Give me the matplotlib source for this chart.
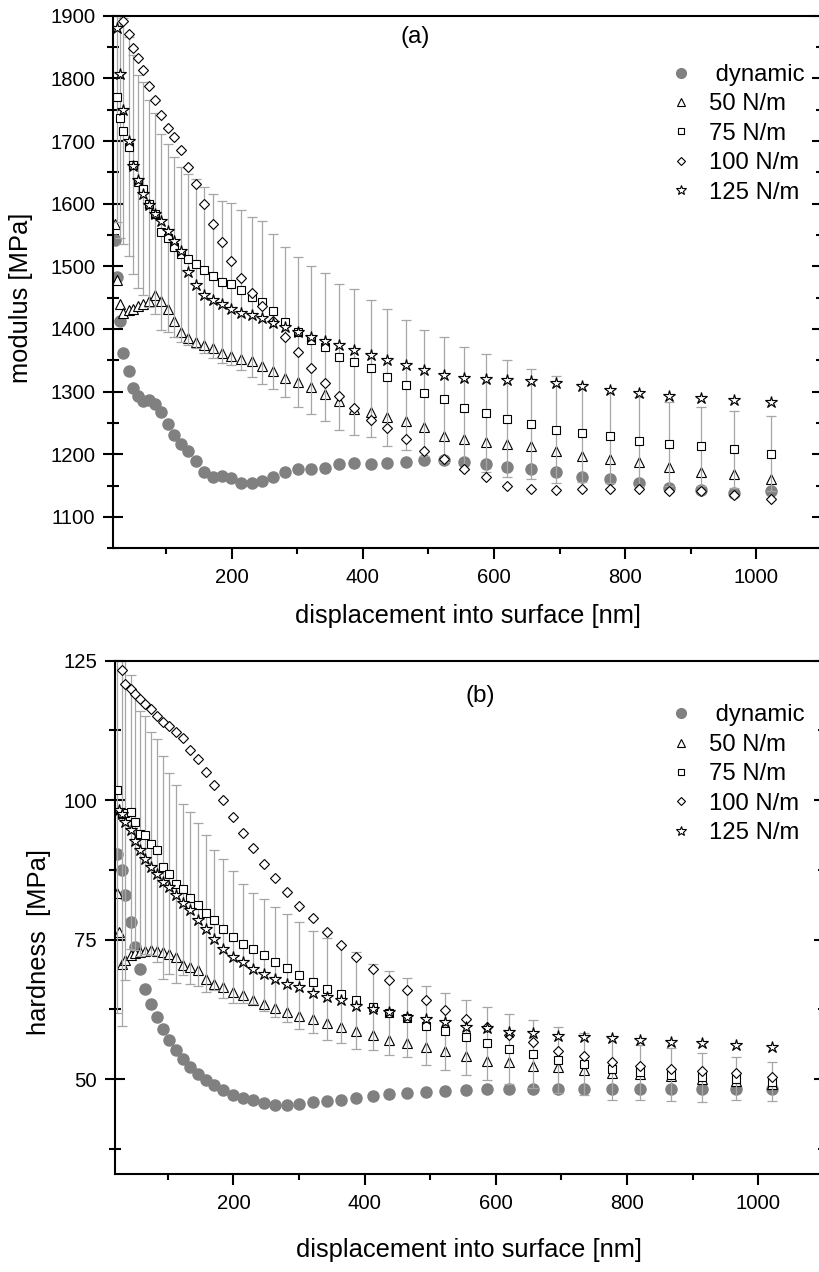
import numpy as np
import matplotlib
matplotlib.use("Agg")
import matplotlib.pyplot as plt
from matplotlib.lines import Line2D
from matplotlib.ticker import MultipleLocator

plt.rcParams['font.family'] = ['Liberation Sans', 'DejaVu Sans']

nan = np.nan

# displacement into surface [nm] (common sampling of all curves)
depth = [22.5, 25.5, 29.7, 35, 43.4, 50, 57.6, 65.2, 74.4, 83.1, 92.2, 102.4,
         112, 122.7, 133.8, 146, 158.2, 171, 184.8, 198.9, 214.2, 230.5, 246.2,
         263.4, 281.3, 300.6, 320.9, 342.2, 364, 387, 412.3, 437.2, 465, 493,
         523, 554.5, 587, 620, 657, 694.7, 734.5, 776.5, 820.6, 866.8, 915,
         966.5, 1021.6]

labels = [' dynamic', '50 N/m', '75 N/m', '100 N/m', '125 N/m']

# (a) modulus [MPa]
mod_dyn = [1542, 1483, 1412, 1362, 1333, 1306, 1293, 1285, 1286.5, 1281, 1268, 1249,
           1231, 1217, 1205, 1190, 1172, 1163, 1165, 1162, 1155, 1154, 1158, 1164,
           1172, 1177, 1177, 1178, 1184, 1186, 1185, 1186, 1187, 1190.5, 1190.5, 1187,
           1184, 1180, 1176, 1171, 1164, 1161, 1154, 1146, 1142.6, 1139, 1141]
mod_50 = [1567, 1478, 1440, 1425, 1431, 1432.5, 1436, 1440, 1445, 1454, 1445, 1432,
          1413, 1395, 1385, 1380, 1374, 1369, 1362, 1357, 1352, 1349, 1341, 1333,
          1322, 1316, 1307, 1296, 1285, 1273, 1268, 1260, 1253, 1243, 1230, 1225,
          1220, 1217, 1213, 1205, 1198, 1192, 1187, 1180, 1172, 1169, 1161]
mod_75 = [nan, 1770.6, 1736, 1716, 1691, 1662.5, 1635, 1624, 1600, 1584, 1555, 1546,
          1531, 1519, 1511, 1504, 1494, 1485, 1475, 1472, 1462, 1451, 1443, 1428,
          1411.5, 1395.5, 1382, 1371.6, 1355.6, 1347.6, 1337, 1323, 1311, 1298, 1288,
          1273.5, 1265.6, 1257, 1248.6, 1239.5, 1234, 1229, 1221, 1217, 1213, 1208, 1201]
mod_75_err = [nan, 200, 190, 180, 175, 175, 170, 170, 165, 160, 156, 150,
              143, 140, 137, 135, 133, 131, 130, 129, 128, 127, 130, 124,
              120, 120, 118, 118, 117, 117, 110, 109, 104, 100, 100, 98,
              94, 93, 88, 85, 78, 75, 71, 67, 63, 61, 60]
mod_100 = [nan, nan, nan, 1892, 1870, 1849, 1833, 1813, 1788, 1766, 1741, 1721,
           1707, 1685, 1659, 1631, 1600, 1568, 1539, 1508, 1482, 1457, 1437, 1412,
           1388, 1364, 1338, 1314, 1293, 1274, 1255, 1242, 1225, 1206, 1192, 1177,
           1163, 1149, 1144, 1143, 1145, 1144, 1144, 1141.5, 1141.5, 1135, 1129]
mod_125 = [nan, 1880, 1807, 1750, 1700, 1660, 1637, 1615, 1598, 1583, 1572, 1557,
           1540, 1525, 1491, 1470, 1455, 1446, 1440, 1432, 1426, 1423, 1418, 1410,
           1403, 1395, 1387, 1381, 1375, 1367, 1359, 1351, 1342, 1335, 1327, 1322,
           1320, 1318, 1316.6, 1314, 1309, 1303, 1298, 1293, 1290, 1286, 1284]

# (b) hardness [MPa]
hard_dyn = [90.4, nan, 87.4, 83, 78.2, 73.7, 69.8, 66.1, 63.5, 61.2, 58.9, 57.0,
            55.3, 53.6, 52.15, 50.9, 49.9, 48.9, 48.0, 47.1, 46.6, 46.2, 45.8, 45.45,
            45.4, 45.55, 45.9, 46.0, 46.2, 46.6, 46.9, 47.3, 47.5, 47.7, 47.9, 48.1,
            48.2, 48.26, 48.26, 48.26, 48.26, 48.26, 48.26, 48.26, 48.26, 48.15, 48.15]
hard_50 = [83.4, 76.4, 70.7, 71.3, 72.2, 72.6, 72.8, 73.0, 73.1, 73.0, 72.8, 72.5,
           71.9, 70.4, 70.1, 69.5, 68, 67.1, 66.5, 65.6, 65, 64.2, 63.5, 62.8,
           62.0, 61.3, 60.7, 60.0, 59.4, 58.6, 57.9, 57.0, 56.45, 55.7, 55.0, 54.2,
           53.3, 53.0, 52.4, 52.1, 51.7, 51.1, 51.0, 50.65, 50.05, 49.75, 49.15]
hard_75 = [101.8, nan, 97.6, 97.7, 97.9, 96.1, 94, 93.7, 92.2, 91, 88, 86.8,
           85, 84, 82.5, 81.3, 79.7, 78.5, 77, 75.5, 74.3, 73.4, 72.2, 71,
           69.9, 68.6, 67.4, 66.2, 65.2, 64.1, 62.9, 61.9, 61.0, 59.6, 58.6, 57.5,
           56.4, 55.4, 54.5, 53.5, 52.7, 51.8, 51.2, 50.8, 50.3, 50.05, 49.5]
hard_75_err = [40, nan, 38, 30, 24.5, 23, 22, 21.3, 20, 20, 20, 18,
               17.7, 15.4, 15.4, 14.6, 14, 12.6, 12.4, 11.8, 10.7, 9.9, 10, 9.9,
               9.7, 9.6, 9.15, 9.15, 8.8, 8.7, 7.7, 7.5, 7.1, 7.1, 6.9, 6.7,
               6.5, 6.3, 6.1, 5.9, 5.5, 5.6, 5.0, 4.8, 4.4, 3.85, 3.5]
hard_100 = [nan, nan, 123.3, 120.9, 119.9, 119, 118.2, 117.2, 116.3, 115, 114.1, 113.3,
            112.3, 111.1, 109, 107.3, 105.1, 102.7, 100.1, 97, 94.2, 91.4, 88.5, 86.1,
            83.6, 81, 78.8, 76.4, 74.1, 71.9, 69.7, 67.7, 65.9, 64.2, 62.4, 60.8,
            59.3, 57.9, 56.6, 55.1, 54.1, 53.0, 52.4, 51.8, 51.4, 51.1, 50.3]
hard_125 = [nan, 98.2, 97.5, 96.1, 94.7, 92.7, 91, 89.5, 88, 86.8, 85.3, 84.4,
            83, 81.6, 80.3, 78.6, 77, 75.2, 73.4, 71.9, 71, 69.8, 68.9, 68,
            67.1, 66.5, 65.5, 64.7, 64.1, 63.2, 62.6, 62.0, 61.1, 60.8, 60.2, 59.4,
            59.1, 58.5, 58.2, 57.8, 57.5, 57.3, 57.0, 56.6, 56.4, 56.2, 55.85]

GRAY = '#808080'
ERR_GRAY = '#a6a6a6'
W, H = 820, 1272
LABEL_FS = 18.4

fig = plt.figure(figsize=(W / 100, H / 100), dpi=100)


def axes_px(left, top, right, bottom):
    return fig.add_axes([left / W, 1 - bottom / H, (right - left) / W, (bottom - top) / H])


def draw_panel(ax, y_dyn, y50, y75, y75err, y100, y125):
    x = np.array(depth)
    ax.plot(x, y_dyn, 'o', ms=8, color=GRAY, mec=GRAY, zorder=2.0)
    ax.plot(x, y50, '^', ms=7.6, mfc='white', mec='black', mew=0.8, zorder=2.1)
    ax.errorbar(x, y75, yerr=y75err, fmt='none', ecolor=ERR_GRAY, elinewidth=0.9,
                capsize=3.6, capthick=0.9, zorder=2.2)
    ax.plot(x, y75, 's', ms=5.8, mfc='white', mec='black', mew=0.8, zorder=2.3)
    ax.plot(x, y100, 'D', ms=5.2, mfc='white', mec='black', mew=0.8, zorder=2.4)
    ax.plot(x, y125, '*', ms=9, mfc='white', mec='black', mew=0.85, zorder=2.5)

    ax.set_xlim(19.5, 1100)
    ax.xaxis.set_major_locator(MultipleLocator(200))
    ax.xaxis.set_minor_locator(MultipleLocator(100))
    ax.tick_params(axis='x', which='both', direction='out', top=False, width=1.5,
                   labelsize=14.6, pad=6.5)
    ax.tick_params(axis='x', which='major', length=8)
    ax.tick_params(axis='x', which='minor', length=4.3)
    ax.tick_params(axis='y', which='both', direction='inout', left=True, right=True,
                   width=1.5, labelsize=14.6, pad=5.5)
    ax.tick_params(axis='y', which='major', length=15)
    ax.tick_params(axis='y', which='minor', length=9)
    for s in ax.spines.values():
        s.set_linewidth(1.5)
    ax.set_xlabel('displacement into surface [nm]', fontsize=LABEL_FS)

    handles = [
        Line2D([], [], ls='', marker='o', ms=7, color=GRAY),
        Line2D([], [], ls='', marker='^', ms=5.2, mfc='white', mec='black', mew=0.8),
        Line2D([], [], ls='', marker='s', ms=4.2, mfc='white', mec='black', mew=0.8),
        Line2D([], [], ls='', marker='D', ms=4.0, mfc='white', mec='black', mew=0.8),
        Line2D([], [], ls='', marker='*', ms=7, mfc='white', mec='black', mew=0.8),
    ]
    return handles


def add_legend(ax, handles, top_px):
    ax.legend(handles, labels, loc='upper left',
              bbox_to_anchor=(669 / W, 1 - top_px / H),
              bbox_transform=fig.transFigure, frameon=False, fontsize=17.2,
              handlelength=1.0, handletextpad=0.695, labelspacing=0.31,
              borderpad=0, borderaxespad=0, numpoints=1)


# ---- panel (a): modulus
ax1 = axes_px(113.3, 15.7, 822, 548.3)
h = draw_panel(ax1, mod_dyn, mod_50, mod_75, mod_75_err, mod_100, mod_125)
ax1.set_ylim(1050, 1900)
ax1.yaxis.set_minor_locator(MultipleLocator(50))
ax1.set_yticks([1100, 1200, 1300, 1400, 1500, 1600, 1700, 1800, 1900])
ax1.set_ylabel('modulus [MPa]', fontsize=LABEL_FS)
ax1.yaxis.set_label_coords(-0.113, 0.47)
ax1.xaxis.set_label_coords(0.5, -0.105)
ax1.text(480, 1866, '(a)', fontsize=17.5, ha='center', va='center')
add_legend(ax1, h, 64)

# ---- panel (b): hardness
ax2 = axes_px(115, 660.7, 823.7, 1174)
h = draw_panel(ax2, hard_dyn, hard_50, hard_75, hard_75_err, hard_100, hard_125)
ax2.set_ylim(33, 125)
ax2.yaxis.set_minor_locator(MultipleLocator(12.5))
ax2.set_yticks([50, 75, 100, 125])
ax2.set_ylabel('hardness  [MPa]', fontsize=LABEL_FS)
ax2.yaxis.set_label_coords(-0.091, 0.452)
ax2.xaxis.set_label_coords(0.5, -0.124)
ax2.text(576, 118.7, '(b)', fontsize=17.5, ha='center', va='center')
add_legend(ax2, h, 704.5)

fig.savefig('out.png', dpi=100)
